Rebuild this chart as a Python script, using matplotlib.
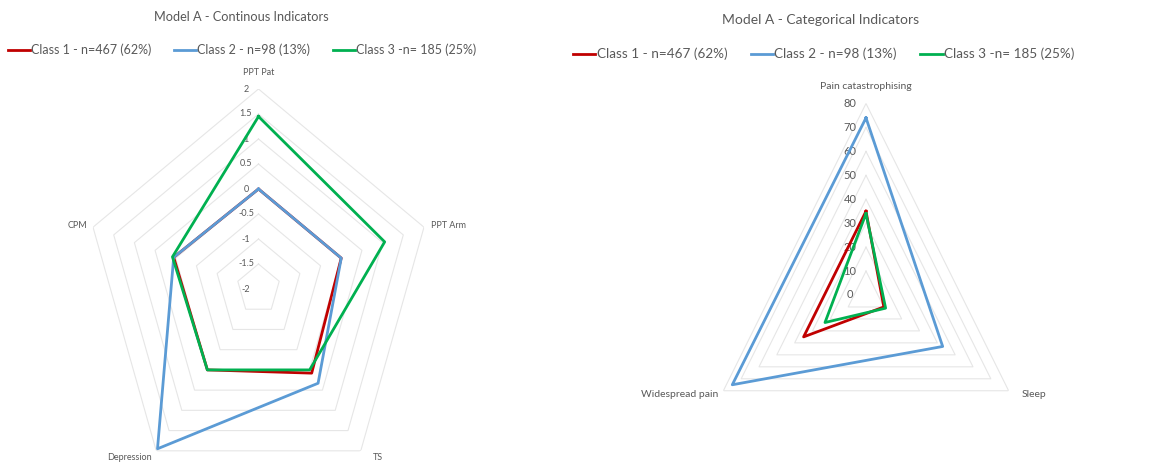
import numpy as np
import matplotlib.pyplot as plt

plt.rcParams['font.family'] = ['Lato', 'DejaVu Sans']

# left panel - continuous indicators
cont_labels = ["PPT Pat", "PPT Arm", "TS", "Depression", "CPM"]
cont_class1 = [0.0, 0.0, 0.08, 0.0, 0.05]
cont_class2 = [0.0, 0.0, 0.33, 1.95, 0.05]
cont_class3 = [1.45, 1.05, 0.0, 0.0, 0.08]
cont_ticks = [2, 1.5, 1, 0.5, 0, -0.5, -1, -1.5, -2]

# right panel - categorical indicators
cat_labels = ["Pain catastrophising", "Sleep", "Widespread pain"]
cat_class1 = [35, 10, 35]
cat_class2 = [74, 43, 75]
cat_class3 = [34, 11, 23]
cat_ticks = [80, 70, 60, 50, 40, 30, 20, 10, 0]

legend_labels = ["Class 1 - n=467 (62%)", "Class 2 - n=98 (13%)", "Class 3 -n= 185 (25%)"]
colors = ["#C00000", "#5B9BD5", "#00B050"]
grey = "#595959"


def radar(ax, labels, series, ticks, tick_fs, tick_dx, lab_fs, lab_pos):
    n = len(labels)
    ang = np.linspace(0, 2 * np.pi, n, endpoint=False)
    closed = np.append(ang, ang[0])
    ax.set_theta_zero_location('N')
    ax.set_theta_direction(-1)
    ax.set_aspect('auto')
    ax.set_ylim(min(ticks), max(ticks))
    ax.grid(False)
    ax.spines['polar'].set_visible(False)
    ax.set_xticks([])
    ax.set_yticks([])
    ax.patch.set_alpha(0)
    # polygon gridlines like excel
    for t in ticks[:-1]:
        ax.plot(closed, [t] * (n + 1), color='#e6e6e6', lw=0.8, zorder=1)
    for t in ticks:
        ax.annotate(f"{t:g}", (0, t), xytext=(tick_dx, 0), textcoords='offset points',
                    ha='center', va='center', fontsize=tick_fs, color=grey,
                    annotation_clip=False)
    for vals, c, lab in zip(series, colors, legend_labels):
        ax.plot(closed, list(vals) + [vals[0]], color=c, lw=2.0, label=lab, zorder=4)
    for a, lab, (dx, dy, ha) in zip(ang, labels, lab_pos):
        ax.annotate(lab, (a, max(ticks)), xytext=(dx, dy), textcoords='offset points',
                    ha=ha, va='center', fontsize=lab_fs, color=grey, annotation_clip=False)


fig = plt.figure(figsize=(11.73, 4.68), dpi=100)

ax1 = fig.add_axes([(258.5 - 174) / 1173, (468 - 489) / 468, 348 / 1173, 400 / 468],
                   projection='polar')
radar(ax1, cont_labels, [cont_class1, cont_class2, cont_class3], cont_ticks,
      6.5, -9, 6.5,
      [(0, 12, 'center'), (5, 1, 'left'), (9, -5, 'left'), (-3, -5, 'right'), (-4, 1, 'right')])

ax2 = fig.add_axes([(866 - 164.7) / 1173, (468 - 295 - 191.5) / 468, 329.4 / 1173, 383 / 468],
                   projection='polar')
radar(ax2, cat_labels, [cat_class1, cat_class2, cat_class3], cat_ticks,
      8, -11.5, 7.5,
      [(0, 12, 'center'), (9, -3, 'left'), (-4, -3, 'right')])

fig.text(241 / 1173, 1 - 17 / 468, "Model A - Continous Indicators", ha='center', va='center',
         fontsize=9.2, color=grey)
fig.text(821 / 1173, 1 - 20 / 468, "Model A - Categorical Indicators", ha='center', va='center',
         fontsize=10, color=grey)

h1, l1 = ax1.get_legend_handles_labels()
fig.legend(h1, l1, loc='center left', bbox_to_anchor=(8 / 1173, 1 - 50 / 468), ncol=3,
           frameon=False, fontsize=9, handlelength=1.75, handletextpad=0.1,
           columnspacing=1.8, borderpad=0, borderaxespad=0, labelcolor=grey)
h2, l2 = ax2.get_legend_handles_labels()
fig.legend(h2, l2, loc='center left', bbox_to_anchor=(573 / 1173, 1 - 54 / 468), ncol=3,
           frameon=False, fontsize=9.7, handlelength=1.65, handletextpad=0.1,
           columnspacing=1.75, borderpad=0, borderaxespad=0, labelcolor=grey)

fig.savefig("out.png", dpi=100)
